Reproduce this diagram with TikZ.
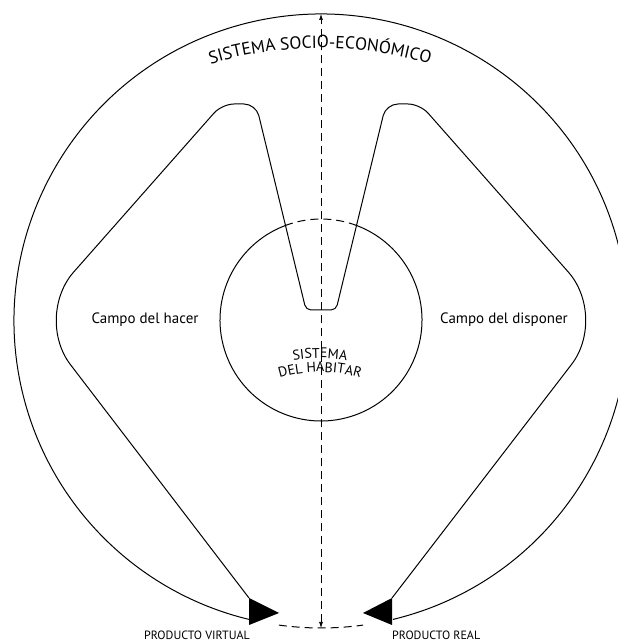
\documentclass[tikz,border=0pt]{standalone}
\usepackage{fontspec}
\setmainfont{PT Sans}
\usetikzlibrary{arrows.meta,decorations.text}

\begin{document}
\begin{tikzpicture}[x=1pt,y=1pt,
    outline/.style={line width=1pt},
    dashline/.style={line width=1pt,dash pattern=on 8pt off 5pt},
    campo/.style={font=\fontsize{15}{16}\selectfont,inner sep=0pt},
    producto/.style={font=\fontsize{12}{14}\selectfont,inner sep=0pt}]
  \useasboundingbox (0,0) rectangle (618,643);
  \coordinate (socio) at (321,322);
  \coordinate (habitar) at (321,323);
  \coordinate (top) at (321,629);
  \coordinate (bottom) at (321,15);
  % sistema socio-economico
  \draw[outline] (socio) ++(-76.44:307) arc[start angle=-76.44,end angle=256.44,radius=307];
  \draw[dashline] (socio) ++(262.1:307) arc[start angle=262.1,end angle=277.9,radius=307];
  % sistema del habitar
  \draw[outline] (habitar) ++(110.6:101) arc[start angle=110.6,end angle=429.4,radius=101];
  \draw[dashline] (habitar) ++(69.4:101) arc[start angle=69.4,end angle=110.6,radius=101];
  % campos
  \draw[outline] (249,45) [rounded corners=60pt] -- (34,326) [rounded corners=12pt] -- (222,539)
    -- (256,539) [rounded corners=5pt] -- (306,333) -- (336,333) [rounded corners=12pt] -- (386,539)
    -- (420,539) [rounded corners=60pt] -- (608,326) -- (392,45);
  % productos
  \fill (249,45) -- (279,30) -- (249,18) -- cycle;
  \fill (392,45) -- (363,30) -- (392,18) -- cycle;
  \draw[line width=0.7pt,dash pattern=on 8pt off 5pt,
    {Latex[length=6pt,width=4pt]}-{Latex[length=6pt,width=4pt]}] (bottom) -- (top);

  \path[decorate,decoration={text along path,text align=center,
    text={|\fontsize{17.5}{18}\selectfont|SISTEMA SOCIO-ECONÓMICO}}]
    (320,215) ++(115:380) arc[start angle=115,end angle=65,radius=380];
  \path[decorate,decoration={text along path,text align=center,
    text={|\fontsize{14}{14}\selectfont|SISTEMA}}]
    (320,131) ++(120:154) arc[start angle=120,end angle=60,radius=154];
  \path[decorate,decoration={text along path,text align=center,
    text={|\fontsize{14}{14}\selectfont|DEL HABITAR}}]
    (320,131) ++(120:140) arc[start angle=120,end angle=60,radius=140];

  \node[campo] (hacer) at (145,323) {Campo del hacer};
  \node[campo] (disponer) at (504,323) {Campo del disponer};
  \node[producto,anchor=base east] (virtual) at (250,3) {PRODUCTO VIRTUAL};
  \node[producto,anchor=base west] (real) at (392,3) {PRODUCTO REAL};
\end{tikzpicture}
\end{document}
